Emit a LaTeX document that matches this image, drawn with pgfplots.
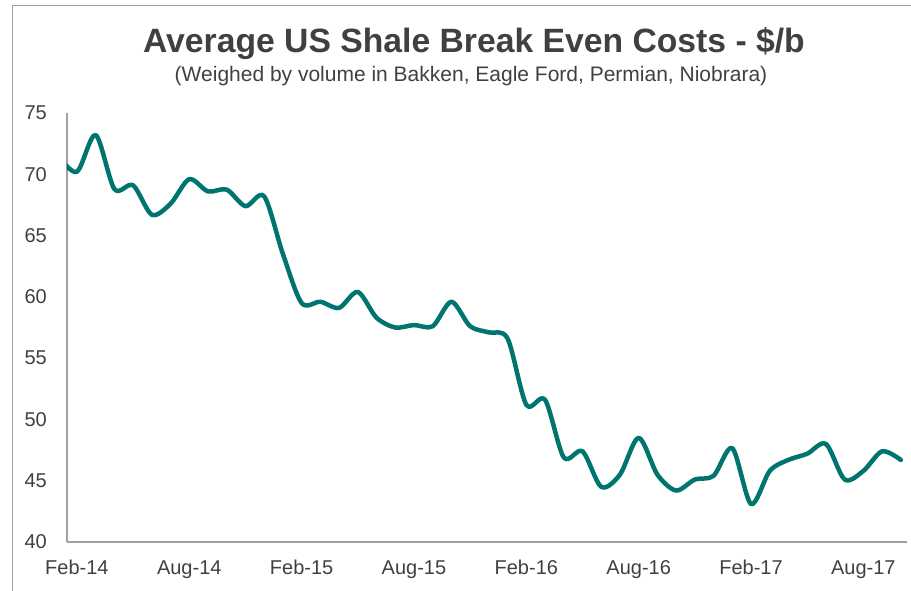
\documentclass[border=0pt]{standalone}
\usepackage{pgfplots}
\pgfplotsset{compat=1.18}
\usepackage{fontspec}
\setmainfont{Liberation Sans}
\definecolor{lineteal}{HTML}{00746F}
\definecolor{axgray}{HTML}{A0A0A0}
\definecolor{txt}{HTML}{404040}

\pgfplotstableread{
m v
-1 71.5
0 70.2
1 73.2
2 68.8
3 69.1
4 66.7
5 67.6
6 69.6
7 68.6
8 68.75
9 67.4
10 68.2
11 63.5
12 59.5
13 59.6
14 59.1
15 60.4
16 58.3
17 57.5
18 57.7
19 57.6
20 59.6
21 57.6
22 57.1
23 56.6
24 51.2
25 51.6
26 46.9
27 47.4
28 44.5
29 45.5
30 48.5
31 45.5
32 44.2
33 45.1
34 45.4
35 47.65
36 43.1
37 45.8
38 46.7
39 47.2
40 48.0
41 45.1
42 45.8
43 47.4
44 46.7
}\costs

\begin{document}
\begin{tikzpicture}[x=1pt,y=1pt]
\path[use as bounding box] (0,0) rectangle (911,590);
\draw[axgray, line width=1.2pt] (12.3,-10) -- (12.3,584.5) -- (930,584.5);
\node[anchor=base, font=\fontsize{33.7}{40}\selectfont\bfseries, text=txt, inner sep=0pt] at (474,537) {Average US Shale Break Even Costs - \$/b};
\node[anchor=base, font=\fontsize{21}{25}\selectfont, text=txt, inner sep=0pt] at (471,508) {(Weighed by volume in Bakken, Eagle Ford, Permian, Niobrara)};
\begin{axis}[
  at={(67pt,48pt)}, anchor=south west,
  width=840pt, height=429pt, scale only axis,
  xmin=-0.53, xmax=44.33, ymin=40, ymax=75,
  axis x line*=bottom, axis y line*=left,
  axis line style={axgray, line width=1.2pt, -},
  every outer x axis line/.append style={-},
  every outer y axis line/.append style={-},
  xtick={0,6,...,42},
  xticklabels={Feb-14,Aug-14,Feb-15,Aug-15,Feb-16,Aug-16,Feb-17,Aug-17},
  ytick={40,45,...,75},
  major tick length=0pt,
  tick style={draw=none},
  ticklabel style={font=\fontsize{20}{24}\selectfont, text=txt},
  xticklabel style={anchor=base, inner sep=0pt, yshift=-32pt},
  yticklabel style={anchor=east, inner sep=0pt, xshift=-20pt},
  /pgf/number format/assume math mode=true,
]
\addplot[lineteal, line width=4.5pt, smooth, line join=round, line cap=round] table[x=m, y=v] {\costs};
\end{axis}
\end{tikzpicture}
\end{document}
